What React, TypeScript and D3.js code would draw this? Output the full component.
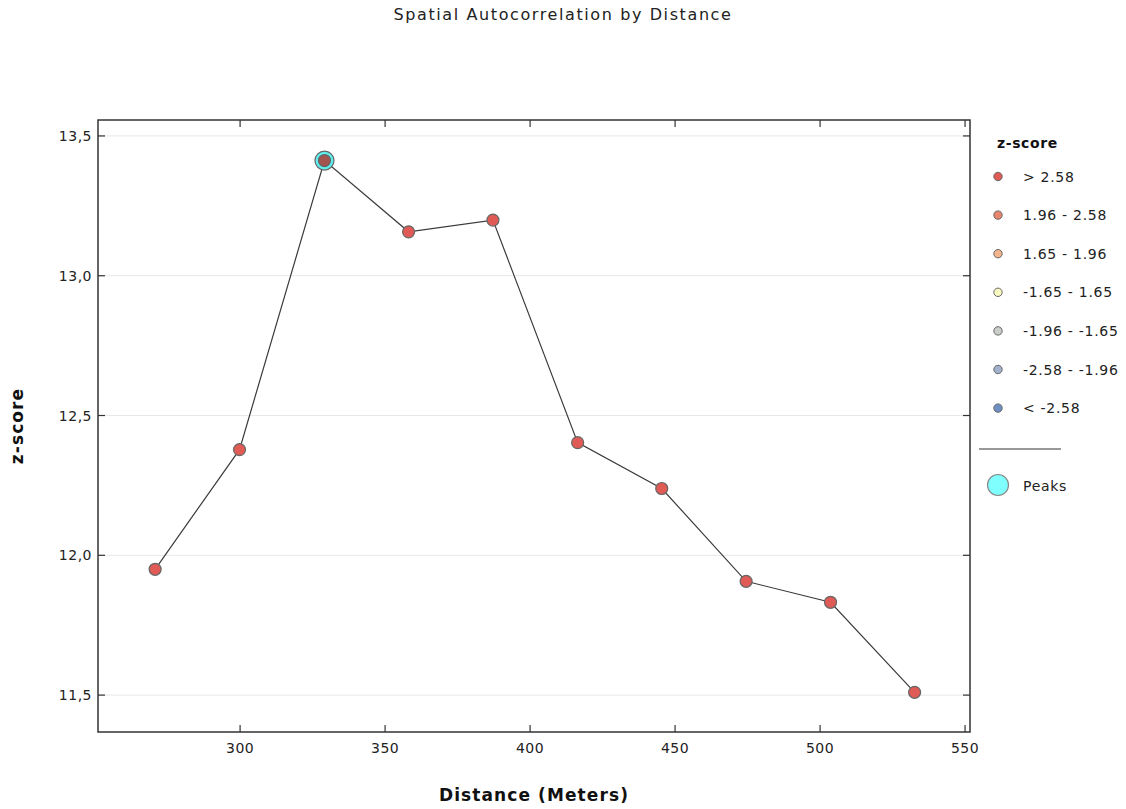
import React from 'react';
import * as d3 from 'd3';

// values
const distances = [270.7, 299.8, 329.1, 358.1, 387.2, 416.4, 445.4, 474.5, 503.6, 532.6];
const zScores = [11.95, 12.378, 13.412, 13.157, 13.199, 12.403, 12.239, 11.907, 11.832, 11.51];
const peakIndices = [2];

const xTicks = [300, 350, 400, 450, 500, 550];
const yTicks = [11.5, 12.0, 12.5, 13.0, 13.5];

const legendLabels = ['> 2.58', '1.96 - 2.58', '1.65 - 1.96', '-1.65 - 1.65', '-1.96 - -1.65', '-2.58 - -1.96', '< -2.58'];
const legendColors = ['#e05b55', '#e9866f', '#f4b48c', '#fbfbc4', '#c9cec8', '#a3b2cc', '#6e8fc4'];

const W = 1126;
const H = 809;
const plot = { left: 98, right: 970, top: 120, bottom: 732 };

const fmt = d3.formatLocale({ decimal: ',', thousands: '.', grouping: [3], currency: ['', ''] }).format('.1f');

const App = () => {
  const x = d3.scaleLinear().domain([251, 551.7]).range([plot.left, plot.right]);
  const y = d3.scaleLinear().domain([11.368, 13.557]).range([plot.bottom, plot.top]);

  const points = distances.map((d, i) => ({ d, z: zScores[i], peak: peakIndices.includes(i) }));
  const line = d3.line<{ d: number; z: number }>().x((p) => x(p.d)).y((p) => y(p.z));

  const font = 'DejaVu Sans, sans-serif';
  const tickLen = 7;

  return (
    <svg width={W} height={H} style={{ position: 'absolute', left: 0, top: 0 }} fontFamily={font}>
      <rect width={W} height={H} fill="#fff" />

      <text x={563} y={20} textAnchor="middle" fontSize={16} letterSpacing={1.6} fill="#222">
        Spatial Autocorrelation by Distance
      </text>

      {/* grid */}
      {yTicks.map((t) => (
        <line key={'g' + t} x1={plot.left} x2={plot.right} y1={y(t)} y2={y(t)} stroke="#e8e8e8" strokeWidth={1} />
      ))}

      {/* ticks on all four sides, pointing inward */}
      {yTicks.map((t) => (
        <g key={'yt' + t} stroke="#333" strokeWidth={1.2}>
          <line x1={plot.left} x2={plot.left + tickLen} y1={y(t)} y2={y(t)} />
          <line x1={plot.right} x2={plot.right - tickLen} y1={y(t)} y2={y(t)} />
        </g>
      ))}
      {xTicks.map((t) => (
        <g key={'xt' + t} stroke="#333" strokeWidth={1.2}>
          <line x1={x(t)} x2={x(t)} y1={plot.bottom} y2={plot.bottom - tickLen} />
          <line x1={x(t)} x2={x(t)} y1={plot.top} y2={plot.top + tickLen} />
        </g>
      ))}

      {yTicks.map((t) => (
        <text key={'yl' + t} x={plot.left - 6} y={y(t) + 5} textAnchor="end" fontSize={14} letterSpacing={0.5} fill="#222">
          {fmt(t)}
        </text>
      ))}
      {xTicks.map((t) => (
        <text key={'xl' + t} x={x(t)} y={plot.bottom + 21} textAnchor="middle" fontSize={14} letterSpacing={0.5} fill="#222">
          {t}
        </text>
      ))}

      <rect
        x={plot.left}
        y={plot.top}
        width={plot.right - plot.left}
        height={plot.bottom - plot.top}
        fill="none"
        stroke="#333"
        strokeWidth={1.5}
      />

      <path d={line(points) || ''} fill="none" stroke="#3a3a3a" strokeWidth={1.2} />

      {points.filter((p) => p.peak).map((p, i) => (
        <circle key={'pk' + i} cx={x(p.d)} cy={y(p.z)} r={9.5} fill="#5ff0f0" stroke="#666" strokeWidth={1.2} />
      ))}
      {points.map((p, i) => (
        <circle
          key={'pt' + i}
          cx={x(p.d)}
          cy={y(p.z)}
          r={6}
          fill={p.peak ? '#a4544f' : legendColors[0]}
          stroke="#666"
          strokeWidth={1.2}
        />
      ))}

      {/* axis titles */}
      <text x={(plot.left + plot.right) / 2} y={801} textAnchor="middle" fontSize={17} letterSpacing={1.1} fontWeight="bold" fill="#111">
        Distance (Meters)
      </text>
      <text
        transform={`translate(23,426) rotate(-90)`}
        textAnchor="middle"
        fontSize={17}
        letterSpacing={1.1}
        fontWeight="bold"
        fill="#111"
      >
        z-score
      </text>

      {/* legend */}
      <text x={997} y={148} fontSize={14} letterSpacing={0.6} fontWeight="bold" fill="#111">
        z-score
      </text>
      {legendLabels.map((lab, i) => {
        const cy = 176.5 + i * 38.6;
        return (
          <g key={lab}>
            <circle cx={998} cy={cy} r={4.2} fill={legendColors[i]} stroke="#666" strokeWidth={1} />
            <text x={1023} y={cy + 5} fontSize={14} letterSpacing={0.7} fill="#222">
              {lab}
            </text>
          </g>
        );
      })}
      <line x1={979} x2={1061} y1={449} y2={449} stroke="#333" strokeWidth={1} />
      <circle cx={998} cy={485} r={10.5} fill="#80ffff" stroke="#888" strokeWidth={1.2} />
      <text x={1023} y={491} fontSize={14} letterSpacing={0.7} fill="#222">
        Peaks
      </text>
    </svg>
  );
};

export default App;
